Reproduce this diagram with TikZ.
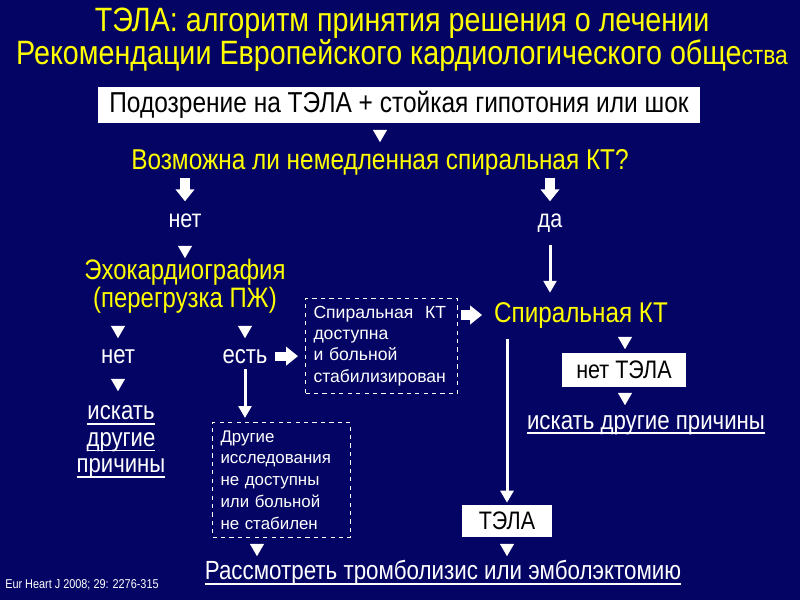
\documentclass[tikz,border=0pt]{standalone}
\usepackage{fontspec}
\setmainfont[FakeStretch=0.85]{Liberation Sans}
\newfontfamily\widefont{Liberation Sans}
\usetikzlibrary{arrows.meta,positioning,shapes.geometric}
\definecolor{slidebg}{RGB}{4,4,100}
\definecolor{slideyel}{RGB}{255,255,0}
\newcommand{\undl}[1]{\setbox0\hbox{#1}\rlap{\rule[-3.5pt]{\wd0}{1.1pt}}\box0}
\newcommand{\fs}[2]{\fontsize{#1}{#2}\selectfont}

\begin{document}
\begin{tikzpicture}[
  x=0.25mm, y=-0.25mm,
  hdr/.style={text=slideyel, align=center, inner sep=1pt},
  txt/.style={text=white, align=center, inner sep=1pt},
  wbox/.style={fill=white, text=black, inner sep=0pt},
  dbox/.style={draw=white, dashed, line width=0.25mm, text=white, align=left, inner sep=2mm, anchor=north west},
  tri/.style={regular polygon, regular polygon sides=3, shape border rotate=180, fill=white, inner sep=0pt, minimum size=4.1mm},
  blk/.style={-{Triangle[length=3mm,width=4.6mm]}, line width=2.3mm, white},
  arr/.style={-{Triangle[length=3mm,width=3.2mm]}, line width=0.75mm, white}]
\fill[slidebg] (0,0) rectangle (800,600);
\useasboundingbox (0,0) rectangle (800,600);
% title
\node[hdr, font=\fs{24pt}{23.5pt}, align=center] (title) at (402,40)
  {ТЭЛА: алгоритм принятия решения о лечении\\
   Рекомендации Европейского кардиологического обще{\fs{19pt}{23.5pt}ства}};
\node[wbox, minimum width=150.5mm, minimum height=9mm, font=\fs{20.5pt}{24pt}] (susp) at (399,105)
  {Подозрение на ТЭЛА + стойкая гипотония или шок};
\node[tri] (t1) at (380,134) {};
\node[hdr, anchor=base, font=\fs{20.4pt}{24pt}] (q) at (380,169) {Возможна ли немедленная спиральная КТ?};
% left branch
\node[txt, anchor=base, font=\fs{18pt}{21pt}] (no1) at (185,227) {нет};
\node[txt, anchor=base, font=\fs{18pt}{21pt}] (yes) at (550,227) {да};
\draw[blk, shorten <=0.4mm, shorten >=2.6mm] (no1 |- q.south) -- (no1.north);
\draw[blk, shorten <=0.4mm, shorten >=2.6mm] (yes |- q.south) -- (yes.north);
\node[tri] (t2) at (185,250) {};
\node[hdr, font=\fs{20pt}{20pt}, align=center] (echo) at (185,286)
  {Эхокардиография\\(перегрузка ПЖ)};
\node[tri] (t3) at (118,330) {};
\node[tri] (t4) at (245,330) {};
\node[txt, anchor=base, font=\fs{18.5pt}{21pt}] (no2) at (118,363) {нет};
\node[txt, anchor=base, font=\fs{18.5pt}{21pt}] (has) at (245,363) {есть};
\node[tri] (t5) at (118,383) {};
\node[txt, font=\fs{18.5pt}{18.8pt}, align=center] (look1) at (121,442)
  {\undl{искать}\\\undl{другие}\\\undl{причины}};
% dashed boxes
\node[dbox, font=\widefont\fs{12.5pt}{15pt}, text width=34mm, minimum height=23.5mm] (avail) at (305,298)
  {Спиральная\ \ КТ\\доступна\\и больной\\стабилизирован};
\node[dbox, font=\widefont\fs{12pt}{15.5pt}, text width=30.5mm, minimum height=28.5mm] (other) at (212,422)
  {Другие\\исследования\\не доступны\\или\ больной\\не стабилен};
\draw[blk, shorten <=1.5mm, shorten >=1.75mm] (has.east) -- (avail.west |- has);
\draw[arr, shorten <=1.1mm, shorten >=1mm] (has.south) -- (has |- other.north);
\node[tri] (t8) at (257,548) {};
% right branch
\node[hdr, anchor=base, font=\fs{20.3pt}{24pt}] (ct) at (581,322) {Спиральная КТ};
\draw[arr, shorten <=2.9mm, shorten >=1.9mm] (yes.south) -- (yes |- ct.north);
\draw[blk, shorten <=0.8mm, shorten >=2.6mm] (avail.east |- ct) -- (ct.west);
\node[tri] (t6) at (625,341) {};
\node[wbox, minimum width=31mm, minimum height=8.5mm, font=\fs{18pt}{21pt}] (nope) at (624,370) {нет ТЭЛА};
\node[tri] (t7) at (625,397) {};
\node[txt, anchor=base, font=\fs{18.6pt}{21pt}] (look2) at (646,429) {\undl{искать другие причины}};
\node[wbox, minimum width=22.5mm, minimum height=8mm, font=\fs{18pt}{21pt}] (pe) at (507,521) {ТЭЛА};
\draw[arr, shorten <=2.4mm, shorten >=0.5mm] (ct.south -| pe) -- (pe.north);
\node[tri] (t9) at (507,548) {};
\node[txt, font=\fs{18.7pt}{21pt}] (final) at (443,573) {\undl{Рассмотреть тромболизис или эмболэктомию}};
\node[txt, font=\fs{9.1pt}{11pt}, anchor=west, inner sep=0pt] (ref) at (5,585) {Eur Heart J 2008; 29: 2276-315};
\end{tikzpicture}
\end{document}
